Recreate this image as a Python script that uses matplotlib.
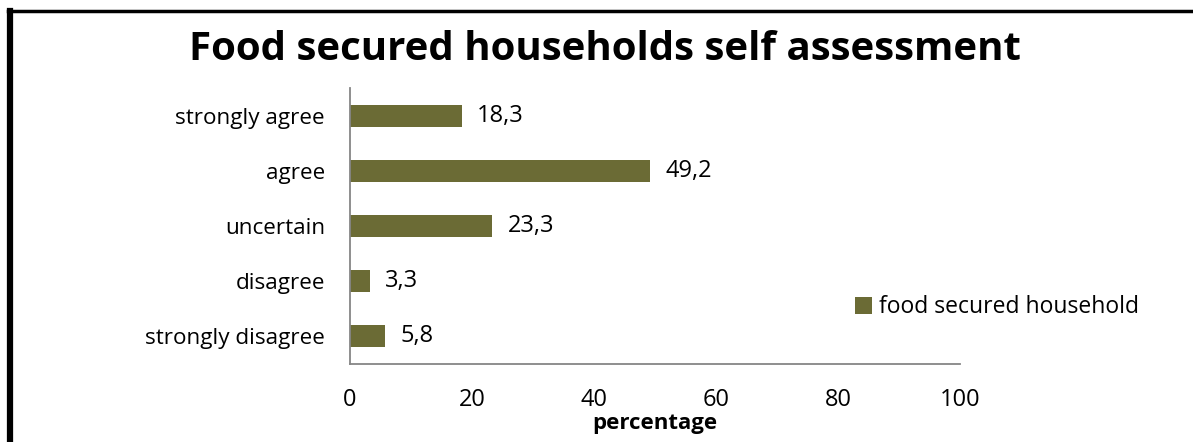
import matplotlib.pyplot as plt
from matplotlib.lines import Line2D

# data
categories = ["strongly disagree", "disagree", "uncertain", "agree", "strongly agree"]
values = [5.8, 3.3, 23.3, 49.2, 18.3]
value_labels = ["5,8", "3,3", "23,3", "49,2", "18,3"]
x_ticks = [0, 20, 40, 60, 80, 100]

bar_color = "#6b6b35"
plt.rcParams['font.family'] = ['Open Sans', 'DejaVu Sans']

fig = plt.figure(figsize=(11.93, 4.42), dpi=100)
ax = fig.add_axes([0.2934, 0.1765, 0.5113, 0.6244])

ypos = list(range(len(categories)))
bars = ax.barh(ypos, values, height=0.4, color=bar_color, label="food secured household")

# value labels next to each bar
for b, txt in zip(bars, value_labels):
    ax.annotate(txt, (b.get_width(), b.get_y() + b.get_height() / 2),
                xytext=(11, 0), textcoords="offset points",
                va="center", ha="left", fontsize=17)

ax.set_xlim(0, 100)
ax.set_ylim(-0.5, len(categories) - 0.5)
ax.set_yticks(ypos)
ax.set_yticklabels(categories, fontsize=16.2)
ax.set_xticks(x_ticks)
ax.set_xticklabels([str(t) for t in x_ticks], fontsize=17)
ax.tick_params(axis="y", length=0, pad=18)
ax.tick_params(axis="x", length=0, pad=17)
ax.set_xlabel("percentage", fontsize=16, fontweight="bold", labelpad=1)

for s in ["top", "right"]:
    ax.spines[s].set_visible(False)
for s in ["left", "bottom"]:
    ax.spines[s].set_color("#868686")
    ax.spines[s].set_linewidth(1.3)

fig.text(0.507, 1 - 60 / 442, "Food secured households self assessment",
         fontsize=29, fontweight="bold", ha="center", va="baseline")

fig.legend(loc="center left", bbox_to_anchor=(0.699, 0.305), frameon=False,
           fontsize=16.5, handlelength=0.75, handleheight=0.75, handletextpad=0.3)

# frame lines on the left and top edge
fig.add_artist(Line2D([0.0088, 0.0088], [0, 0.9750], color="black", lw=4.5,
                      transform=fig.transFigure))
fig.add_artist(Line2D([0.0070, 1.0], [0.9750, 0.9750], color="black", lw=2.5,
                      transform=fig.transFigure))

fig.savefig("out.png", dpi=100)
